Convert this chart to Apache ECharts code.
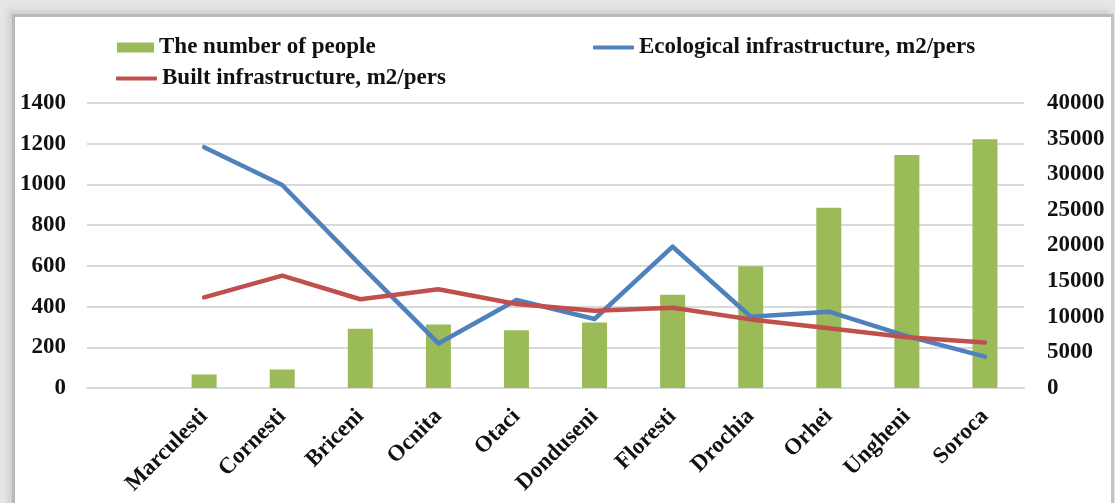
<!DOCTYPE html>
<html lang="en">
<head>
    <meta charset="UTF-8">
    <title>Population and infrastructure by town</title>
    <script src="https://cdn.jsdelivr.net/npm/echarts@6/dist/echarts.min.js"></script>
    <style>
        html, body { margin: 0; padding: 0; background: #ffffff; }
        #wrap { position: relative; width: 1115px; height: 503px; overflow: hidden; background: #e6e6e6; }
        #frame {
            position: absolute; left: 12px; top: 14px; width: 1096px; height: 520px;
            background: #ffffff;
            border-left: 3px solid #b9b9b9; border-top: 3px solid #b9b9b9; border-right: 3px solid #c4c4c4;
            box-shadow: -4px -4px 6px #cfcfcf;
        }
        #main { position: absolute; left: 0; top: 0; width: 1115px; height: 503px; }
    </style>
</head>
<body>
<div id="wrap">
    <div id="frame"></div>
    <div id="main"></div>
</div>

<script type="text/javascript">
    // data
    var towns = ['', 'Marculesti', 'Cornesti', 'Briceni', 'Ocnita', 'Otaci', 'Donduseni',
        'Floresti', 'Drochia', 'Orhei', 'Ungheni', 'Soroca'];
    var people = ['-', 1900, 2600, 8300, 8900, 8100, 9200, 13100, 17100, 25300, 32700, 34900];
    var ecological = ['-', 1183, 997, 605, 219, 432, 339, 694, 350, 375, 255, 154];
    var built = ['-', 445, 552, 436, 485, 413, 380, 394, 337, 293, 249, 223];

    var leftTicks = { min: 0, max: 1400, interval: 200 };
    var rightTicks = { min: 0, max: 40000, interval: 5000 };

    var serif = "'Liberation Serif', 'DejaVu Serif', serif";

    var myChart = echarts.init(document.getElementById('main'));

    var labelStyle = {
        fontFamily: serif,
        fontWeight: 'bold',
        fontSize: 23,
        color: '#111'
    };

    // plain numbers, no thousands separator
    function plain(v) { return String(v); }

    var option = {
        backgroundColor: 'transparent',
        legend: [
            {
                data: [{ name: 'The number of people', icon: 'rect' }],
                left: 112,
                top: 31,
                itemWidth: 37,
                itemHeight: 10,
                textStyle: labelStyle
            },
            {
                data: [{ name: 'Built infrastructure, m2/pers', icon: 'roundRect' }],
                left: 111,
                top: 62,
                itemWidth: 41,
                itemHeight: 4,
                textStyle: labelStyle
            },
            {
                data: [{ name: 'Ecological infrastructure, m2/pers', icon: 'roundRect' }],
                left: 588,
                top: 31,
                itemWidth: 41,
                itemHeight: 4,
                textStyle: labelStyle
            }
        ],
        grid: {
            left: 87,
            right: 91,
            top: 103,
            bottom: 115
        },
        xAxis: {
            type: 'category',
            data: towns,
            axisTick: { show: false },
            axisLine: { lineStyle: { color: '#d9d9d9', width: 2 } },
            axisLabel: {
                rotate: 45,
                interval: 0,
                margin: 25,
                fontFamily: serif,
                fontWeight: 'bold',
                fontSize: 23,
                color: '#111'
            }
        },
        yAxis: [
            {
                type: 'value',
                min: leftTicks.min,
                max: leftTicks.max,
                interval: leftTicks.interval,
                axisLine: { show: false },
                axisTick: { show: false },
                splitLine: { lineStyle: { color: '#d9d9d9', width: 2 } },
                axisLabel: {
                    margin: 21,
                    formatter: plain,
                    fontFamily: serif,
                    fontWeight: 'bold',
                    fontSize: 23,
                    color: '#111'
                }
            },
            {
                type: 'value',
                min: rightTicks.min,
                max: rightTicks.max,
                interval: rightTicks.interval,
                axisLine: { show: false },
                axisTick: { show: false },
                splitLine: { show: false },
                axisLabel: {
                    margin: 23,
                    formatter: plain,
                    fontFamily: serif,
                    fontWeight: 'bold',
                    fontSize: 23,
                    color: '#111'
                }
            }
        ],
        series: [
            {
                name: 'The number of people',
                type: 'bar',
                yAxisIndex: 1,
                barWidth: 25,
                itemStyle: { color: '#9bbb59' },
                data: people
            },
            {
                name: 'Ecological infrastructure, m2/pers',
                type: 'line',
                yAxisIndex: 0,
                symbol: 'none',
                z: 3,
                lineStyle: { color: '#4f81bd', width: 4.5, cap: 'round', join: 'round' },
                itemStyle: { color: '#4f81bd' },
                data: ecological
            },
            {
                name: 'Built infrastructure, m2/pers',
                type: 'line',
                yAxisIndex: 0,
                symbol: 'none',
                z: 4,
                lineStyle: { color: '#c0504d', width: 4.5, cap: 'round', join: 'round' },
                itemStyle: { color: '#c0504d' },
                data: built
            }
        ]
    };

    myChart.setOption(option);
</script>
</body>
</html>
